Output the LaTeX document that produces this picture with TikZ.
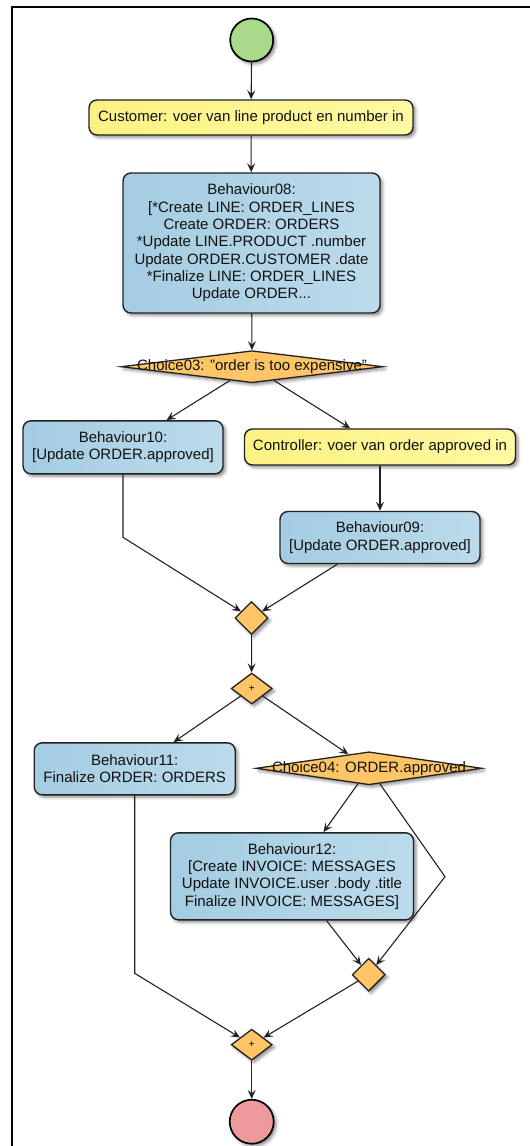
\documentclass[tikz,border=0pt]{standalone}
\usepackage{fontspec}
\setmainfont{Liberation Sans}
\usetikzlibrary{shapes.geometric,arrows.meta,shadows.blur}
\definecolor{boxblueA}{HTML}{A4CCE2}
\definecolor{boxblueB}{HTML}{BCDBEB}
\definecolor{boxyellowA}{HTML}{FCF283}
\definecolor{boxyellowB}{HTML}{FFF9A2}
\definecolor{gateorange}{HTML}{FDC565}
\definecolor{startgreen}{HTML}{A9D98B}
\definecolor{stopred}{HTML}{EE9A9C}
\definecolor{edgec}{HTML}{222222}
\definecolor{linec}{HTML}{222222}
\definecolor{textc}{HTML}{111111}
\begin{document}
\begin{tikzpicture}[x=1pt,y=-1pt,
  font=\fontsize{15}{17.3}\selectfont,
  shd/.style={blur shadow={shadow xshift=2.5pt,shadow yshift=-2.5pt,shadow blur radius=3pt,shadow opacity=45}},
  act/.style={draw=edgec, line width=1.4pt, rounded corners=8pt, left color=boxblueA, right color=boxblueB, align=center, inner sep=0pt, text=textc, shd},
  usr/.style={act, left color=boxyellowA, right color=boxyellowB},
  gate/.style={diamond, draw=edgec, line width=1.3pt, fill=gateorange, inner sep=0pt, shd},
  term/.style={circle, draw=black, line width=1.7pt, inner sep=0pt, minimum size=43pt, shd},
  flow/.style={draw=linec, line width=1.1pt, -{Stealth[length=9pt,width=8pt,inset=3.5pt]}},
  lbl/.style={text=textc, inner sep=0pt}
]
\useasboundingbox (0,0) rectangle (530,1146);
\clip (0,0) rectangle (530,1146);
\draw[line width=2pt, draw=black] (12,1160) -- (12,7) -- (545,7);

% nodes
\node[term, fill=startgreen] (start) at (251.7,40) {};
\node[usr, minimum width=324pt, minimum height=35pt] (cust) at (251,117.5) {Customer: voer van line product en number in};
\node[act, minimum width=257pt, minimum height=140pt] (b08) at (251.5,243) {Behaviour08:\\{}[*Create LINE: ORDER\_LINES\\ Create ORDER: ORDERS\\ *Update LINE.PRODUCT .number\\ Update ORDER.CUSTOMER .date\\ *Finalize LINE: ORDER\_LINES\\ Update ORDER...};
\node[gate, minimum width=262pt, minimum height=32pt] (ch03) at (252,366.7) {};
\node[lbl] (ch03t) at (252,366.7) {Choice03: \symbol{34}order is too expensive\symbol{34}};
\node[act, minimum width=200pt, minimum height=53pt] (b10) at (123,447.3) {Behaviour10:\\{}[Update ORDER.approved]};
\node[usr, minimum width=271pt, minimum height=36pt] (ctrl) at (380,447) {Controller: voer van order approved in};
\node[act, minimum width=200pt, minimum height=52pt] (b09) at (380,537.5) {Behaviour09:\\{}[Update ORDER.approved]};
\node[gate, minimum width=33pt, minimum height=33pt] (m1) at (251.5,618) {};
\node[gate, minimum width=41pt, minimum height=31pt, font=\fontsize{10}{12}\selectfont] (f1) at (251.7,688.5) {+};
\node[act, minimum width=201pt, minimum height=52pt] (b11) at (134.7,768.8) {Behaviour11:\\ Finalize ORDER: ORDERS};
\node[gate, minimum width=226pt, minimum height=33pt] (ch04) at (369,768.3) {};
\node[lbl] (ch04t) at (369,768.3) {Choice04: ORDER.approved};
\node[act, minimum width=243pt, minimum height=87pt] (b12) at (292,876.3) {Behaviour12:\\{}[Create INVOICE: MESSAGES\\ Update INVOICE.user .body .title\\ Finalize INVOICE: MESSAGES]};
\node[gate, minimum width=33pt, minimum height=33pt] (m2) at (368.7,974.7) {};
\node[gate, minimum width=41pt, minimum height=31pt, font=\fontsize{10}{12}\selectfont] (j1) at (251.7,1044.7) {+};
\node[term, fill=stopred, minimum size=44pt] (stop) at (251.7,1121.7) {};

% waypoints
\coordinate (w1) at (123,537.3);
\coordinate (w2) at (445,876.7);
\coordinate (w3) at (134.7,973.3);

% connectors
\draw[flow] (start) -- (cust);
\draw[flow] (cust) -- (b08);
\draw[flow] (b08) -- (ch03);
\draw[flow] (ch03) -- (b10);
\draw[flow] (ch03) -- (ctrl);
\draw[flow] (ctrl) -- (b09);
\draw[flow] (b10) -- (w1) -- (m1);
\draw[flow] (b09) -- (m1);
\draw[flow] (m1) -- (f1);
\draw[flow] (f1) -- (b11);
\draw[flow] (f1) -- (ch04);
\draw[flow] (ch04) -- (b12);
\draw[flow] (ch04) -- (w2) -- (m2);
\draw[flow] (b12) -- (m2);
\draw[flow] (b11) -- (w3) -- (j1);
\draw[flow] (m2) -- (j1);
\draw[flow] (j1) -- (stop);
\end{tikzpicture}
\end{document}
